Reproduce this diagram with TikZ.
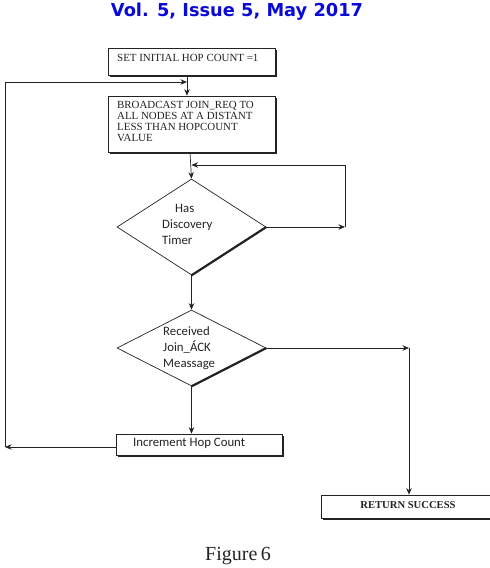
\documentclass[tikz,border=0pt]{standalone}
\usepackage{fontspec}
\setmainfont{Liberation Serif}
\newfontfamily\titlefont{DejaVu Sans}
\newfontfamily\calfont{Carlito}
\usetikzlibrary{shapes.geometric,arrows.meta,shadows}
\definecolor{titleblue}{RGB}{10,10,215}
\definecolor{ink}{RGB}{35,35,35}
\tikzset{
  x=1pt, y=-1pt,
  stepbox/.style={draw=ink, line width=0.7pt, fill=white, rectangle, inner sep=0pt,
    drop shadow={shadow xshift=1.6pt, shadow yshift=-1.6pt, fill=ink, opacity=1}},
  seriftext/.style={font=\fontsize{10.9}{11}\selectfont, align=left, inner sep=0pt, text=ink},
  caltext/.style={font=\calfont\fontsize{12.8}{16}\selectfont, align=left, inner sep=0pt, text=ink},
  dia/.style={draw=ink, line width=0.7pt, diamond, inner sep=0pt},
  arr/.style={draw=ink, line width=0.7pt, -{Stealth[length=6.5pt,width=5.5pt]}},
  ln/.style={draw=ink, line width=0.7pt},
}
\begin{document}
\begin{tikzpicture}
\useasboundingbox (0,0) rectangle (490,568);
% title
\node[font=\titlefont\bfseries\fontsize{17.8}{19}\selectfont, text=titleblue] (title) at (237,12) {Vol. 5, Issue 5, May 2017};
% boxes
\node[stepbox, minimum width=167pt, minimum height=27pt] (b1) at (191.5,61.5) {};
\node[seriftext, anchor=west] (t1) at (117,58) {SET INITIAL HOP COUNT =1};
\node[stepbox, minimum width=167pt, minimum height=56pt] (b2) at (191.5,124) {};
\node[seriftext, anchor=north west] (t2) at (117,101.5) {BROADCAST JOIN\_REQ TO\\ALL NODES AT A DISTANT\\LESS THAN HOPCOUNT\\VALUE};
% diamonds
\node[dia, minimum width=149pt, minimum height=96pt] (d1) at (191.5,227) {};
\draw[ink, line width=2.2pt] (d1.east) -- (d1.south);
\node[caltext, anchor=west] (dt1) at (162,224) {\hspace{13pt}Has\\Discovery\\Timer};
\node[dia, minimum width=149pt, minimum height=76pt] (d2) at (191.5,348) {};
\draw[ink, line width=2.2pt] (d2.east) -- (d2.south);
\node[caltext, anchor=west] (dt2) at (163,348.5) {Received\\Join\_ÁCK\\Meassage};
% increment
\node[stepbox, minimum width=166pt, minimum height=21pt] (inc) at (199.5,444.5) {};
\node[caltext, anchor=west] (it) at (133,443.5) {Increment Hop Count};
% return
\node[stepbox, minimum width=169pt, minimum height=23pt] (ret) at (405.5,506.5) {};
\node[seriftext, font=\fontsize{10.6}{11}\selectfont\bfseries] (rt) at (408,505.5) {RETURN SUCCESS};
% coordinates
\coordinate (lc) at (5,447);
\coordinate (lt) at (5,82);
\coordinate (m1) at (187,82);
\coordinate (r1) at (345,227);
\coordinate (r1t) at (345,165);
\coordinate (m2) at (191.5,165);
\coordinate (r2) at (409,348);
% connectors
\draw[arr] ([xshift=-4.5pt]b1.south) -- ([xshift=-4.5pt]b2.north);
\draw[arr] ([xshift=-1.5pt]b2.south) -- (d1.north);
\draw[arr] (d1.south) -- (d2.north);
\draw[arr] (d2.south) -- ([xshift=-8pt]inc.north);
\draw[arr] (inc.west |- lc) -- (lc);
\draw[ln] (lc) -- (lt);
\draw[arr] (lt) -- (m1);
\draw[arr] (d1.east) -- (r1);
\draw[ln] (r1) -- (r1t);
\draw[arr] (r1t) -- (m2);
\draw[arr] (d2.east) -- (r2);
\draw[arr] (r2) -- (r2 |- ret.north);
% caption
\node[font=\fontsize{20}{22}\selectfont, text=ink] (cap) at (238,556) {Figure\,6};
\end{tikzpicture}
\end{document}
